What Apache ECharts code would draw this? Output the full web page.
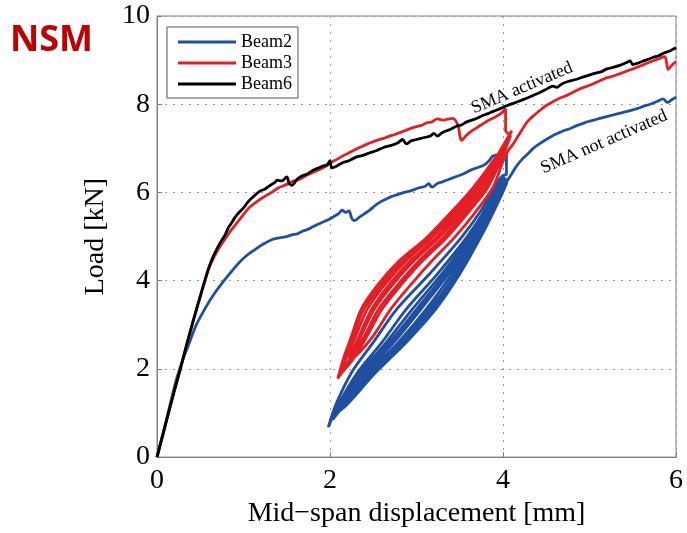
<!DOCTYPE html>
<html>
<head>
<meta charset="utf-8">
<script src="https://cdn.jsdelivr.net/npm/echarts@6/dist/echarts.min.js"></script>
<style>
  html, body { margin: 0; padding: 0; background: #fff; }
  #chart { width: 687px; height: 533px; }
</style>
</head>
<body>
<div id="chart"></div>
<script>
// values: [displacement mm, load kN]
const beam2Pre = [[0,0],[0.1,0.78],[0.2,1.58],[0.23,1.8],[0.3,2.22],[0.36,2.52],[0.45,2.98],[0.55,3.35],[0.65,3.67],[0.75,3.94],[0.85,4.18],[0.94,4.39],[1.03,4.56],[1.13,4.7],[1.23,4.83],[1.34,4.94],[1.44,4.98],[1.5,5.0],[1.56,5.04],[1.62,5.06],[1.68,5.12],[1.74,5.16],[1.8,5.22],[1.86,5.28],[1.92,5.33],[1.98,5.38],[2.04,5.45],[2.1,5.52],[2.14,5.6],[2.18,5.55],[2.22,5.58],[2.25,5.42],[2.28,5.36],[2.34,5.44],[2.4,5.52],[2.46,5.6],[2.52,5.7],[2.58,5.78],[2.64,5.84],[2.7,5.9],[2.78,5.95],[2.86,6.0],[2.94,6.04],[3.02,6.1],[3.1,6.14],[3.14,6.2],[3.18,6.12],[3.24,6.2],[3.3,6.24],[3.38,6.3],[3.46,6.36],[3.54,6.42],[3.62,6.5],[3.7,6.56],[3.78,6.62],[3.84,6.72],[3.88,6.82],[3.96,6.86],[4.04,6.9],[4.04,6.4]];
const beam2Cycles = [
  [4.02,6.4],[3.92,6.2],[3.75,5.6],[3.52,4.98],[3.15,4.15],[2.77,3.35],[2.5,2.6],[2.25,1.92],[2.07,1.2],[1.98,0.68],
  [2.1,1.2],[2.32,1.92],[2.6,2.6],[2.88,3.35],[3.24,4.15],[3.58,4.98],[3.79,5.6],[3.95,6.2],[4.02,6.35],
  [3.97,6.2],[3.81,5.6],[3.61,4.98],[3.29,4.15],[2.95,3.35],[2.65,2.6],[2.36,1.92],[2.12,1.2],[2.03,0.85],
  [2.17,1.2],[2.46,1.92],[2.79,2.6],[3.11,3.35],[3.41,4.15],[3.69,4.98],[3.86,5.6],[4.01,6.2],[4.03,6.3],
  [3.99,6.2],[3.83,5.6],[3.64,4.98],[3.34,4.15],[3.02,3.35],[2.71,2.6],[2.4,1.92],[2.17,1.3],[2.08,1.0],
  [2.2,1.2],[2.53,1.92],[2.88,2.6],[3.22,3.35],[3.5,4.15],[3.74,4.98],[3.9,5.6],[4.04,6.2],[4.05,6.3],
  [3.98,6.2],[3.83,5.6],[3.63,4.98],[3.33,4.15],[3.0,3.35],[2.69,2.6],[2.39,1.92],[2.2,1.4],[2.14,1.15],
  [2.26,1.4],[2.49,1.92],[2.82,2.6],[3.15,3.35],[3.45,4.15],[3.71,4.98],[3.88,5.6],[4.02,6.2],[4.04,6.28],
  [4.0,6.2],[3.84,5.6],[3.66,4.98],[3.37,4.15],[3.05,3.35],[2.74,2.6],[2.42,1.92],[2.2,1.35],
  [2.5,1.92],[2.84,2.6],[3.18,3.35],[3.47,4.15],[3.72,4.98],[3.88,5.6],[4.03,6.2]];
const beam2Post = [[4.06,6.3],[4.1,6.42],[4.15,6.58],[4.22,6.75],[4.3,6.9],[4.35,7.0],[4.42,7.1],[4.5,7.2],[4.56,7.27],[4.62,7.33],[4.7,7.4],[4.78,7.45],[4.86,7.52],[4.92,7.56],[4.97,7.6],[5.05,7.64],[5.12,7.68],[5.2,7.72],[5.26,7.75],[5.32,7.78],[5.4,7.82],[5.48,7.86],[5.55,7.9],[5.62,7.95],[5.7,8.0],[5.78,8.06],[5.85,8.12],[5.9,8.04],[5.95,8.1],[6.0,8.16]];

const beam3Pre = [[0,0],[0.1,0.75],[0.2,1.5],[0.27,2.0],[0.35,2.6],[0.42,3.1],[0.5,3.63],[0.555,4.0],[0.6,4.28],[0.65,4.5],[0.7,4.68],[0.75,4.84],[0.8,4.98],[0.84,5.1],[0.9,5.25],[0.96,5.4],[1.02,5.55],[1.08,5.68],[1.16,5.8],[1.22,5.88],[1.28,5.95],[1.34,6.02],[1.4,6.1],[1.46,6.15],[1.52,6.2],[1.58,6.26],[1.65,6.3],[1.72,6.38],[1.8,6.45],[1.88,6.52],[1.94,6.58],[2.0,6.66],[2.08,6.75],[2.16,6.84],[2.24,6.92],[2.3,6.98],[2.38,7.05],[2.46,7.12],[2.54,7.18],[2.61,7.22],[2.68,7.27],[2.76,7.32],[2.84,7.38],[2.92,7.44],[3.0,7.49],[3.06,7.52],[3.12,7.58],[3.18,7.6],[3.24,7.67],[3.3,7.64],[3.36,7.66],[3.42,7.68],[3.48,7.52],[3.5,7.3],[3.52,7.18],[3.57,7.28],[3.62,7.37],[3.7,7.47],[3.77,7.56],[3.84,7.64],[3.9,7.7],[3.97,7.78],[4.03,7.9],[4.03,7.4]];
const beam3Cycles = [
  [4.07,7.3],[3.88,6.7],[3.65,6.1],[3.4,5.55],[3.12,4.98],[2.8,4.45],[2.55,3.9],[2.36,3.35],[2.25,2.75],[2.15,2.2],[2.09,1.78],
  [2.22,2.2],[2.36,2.75],[2.51,3.35],[2.72,3.9],[2.97,4.45],[3.26,4.98],[3.53,5.55],[3.75,6.1],[3.93,6.7],[4.1,7.4],
  [3.89,6.7],[3.67,6.1],[3.43,5.55],[3.15,4.98],[2.84,4.45],[2.59,3.9],[2.39,3.35],[2.27,2.75],[2.17,2.2],[2.11,1.84],
  [2.24,2.2],[2.4,2.75],[2.56,3.35],[2.78,3.9],[3.03,4.45],[3.31,4.98],[3.57,5.55],[3.79,6.1],[3.95,6.7],[4.09,7.3],
  [3.9,6.7],[3.7,6.1],[3.46,5.55],[3.18,4.98],[2.88,4.45],[2.63,3.9],[2.43,3.35],[2.3,2.75],[2.18,2.2],[2.13,1.9],
  [2.26,2.2],[2.43,2.75],[2.6,3.35],[2.82,3.9],[3.07,4.45],[3.35,4.98],[3.6,5.55],[3.82,6.1],[3.97,6.7],[4.08,7.25],
  [3.92,6.7],[3.73,6.1],[3.5,5.55],[3.23,4.98],[2.93,4.45],[2.68,3.9],[2.48,3.35],[2.34,2.75],[2.22,2.25],
  [2.3,2.3],[2.5,2.75],[2.7,3.35],[2.93,3.9],[3.18,4.45],[3.44,4.98],[3.68,5.55],[3.88,6.1],[4.0,6.7],[4.06,6.95]];
const beam3Post = [[4.1,7.05],[4.15,7.2],[4.22,7.42],[4.28,7.6],[4.36,7.75],[4.44,7.88],[4.5,7.97],[4.58,8.06],[4.66,8.14],[4.74,8.2],[4.81,8.27],[4.88,8.34],[4.96,8.4],[5.04,8.46],[5.12,8.53],[5.2,8.6],[5.28,8.64],[5.36,8.7],[5.43,8.75],[5.5,8.8],[5.58,8.86],[5.65,8.92],[5.73,8.98],[5.8,9.03],[5.87,9.08],[5.89,8.95],[5.91,8.79],[5.95,8.88],[6.0,8.97]];

const beam6 = [[0,0],[0.1,0.75],[0.2,1.5],[0.27,2.0],[0.35,2.6],[0.42,3.1],[0.5,3.65],[0.555,4.02],[0.6,4.3],[0.65,4.55],[0.7,4.75],[0.75,4.92],[0.79,5.05],[0.83,5.22],[0.86,5.3],[0.9,5.43],[0.95,5.55],[1.0,5.65],[1.05,5.78],[1.1,5.88],[1.14,5.95],[1.19,6.03],[1.25,6.08],[1.3,6.15],[1.36,6.22],[1.39,6.28],[1.44,6.26],[1.5,6.35],[1.53,6.2],[1.56,6.16],[1.62,6.3],[1.68,6.38],[1.74,6.42],[1.8,6.5],[1.86,6.55],[1.92,6.6],[1.97,6.63],[2.0,6.72],[2.02,6.56],[2.08,6.6],[2.15,6.68],[2.22,6.72],[2.3,6.8],[2.38,6.84],[2.46,6.9],[2.54,6.95],[2.62,7.02],[2.7,7.06],[2.78,7.12],[2.84,7.2],[2.88,7.1],[2.94,7.17],[3.0,7.2],[3.08,7.24],[3.16,7.28],[3.2,7.34],[3.24,7.28],[3.3,7.36],[3.38,7.42],[3.46,7.5],[3.52,7.53],[3.58,7.6],[3.64,7.64],[3.7,7.68],[3.76,7.74],[3.82,7.78],[3.9,7.85],[3.97,7.9],[4.05,7.97],[4.12,8.02],[4.2,8.08],[4.28,8.14],[4.35,8.2],[4.42,8.26],[4.5,8.34],[4.58,8.41],[4.62,8.38],[4.68,8.46],[4.76,8.52],[4.84,8.56],[4.9,8.6],[4.98,8.65],[5.06,8.7],[5.14,8.74],[5.2,8.8],[5.28,8.84],[5.35,8.88],[5.42,8.94],[5.47,8.98],[5.5,8.9],[5.56,8.93],[5.62,8.98],[5.68,9.02],[5.73,9.06],[5.8,9.1],[5.86,9.16],[5.92,9.2],[5.97,9.25],[6.0,9.28]];

const serif = '"Liberation Serif", "DejaVu Serif", serif';

const chart = echarts.init(document.getElementById('chart'));

function line(name, color, data) {
  return {
    name: name,
    type: 'line',
    data: data,
    symbol: 'none',
    smooth: 0.3,
    lineStyle: { color: color, width: 2.8 },
    itemStyle: { color: color }
  };
}

chart.setOption({
  animation: false,
  backgroundColor: '#fff',
  grid: { left: 157, right: 11, top: 16, bottom: 71, show: true, borderColor: '#808080', borderWidth: 1 },
  xAxis: {
    type: 'value', min: 0, max: 6, interval: 2,
    name: 'Mid\u2212span displacement [mm]',
    nameLocation: 'middle', nameGap: 36,
    nameTextStyle: { fontFamily: serif, fontSize: 28, color: '#000' },
    axisLine: { lineStyle: { color: '#808080' } },
    axisTick: { inside: true, length: 5, lineStyle: { color: '#808080' } },
    axisLabel: { fontFamily: serif, fontSize: 28, color: '#000', margin: 10 },
    splitLine: { show: true, lineStyle: { color: '#999', type: [2, 6] } }
  },
  yAxis: {
    type: 'value', min: 0, max: 10, interval: 2,
    name: 'Load [kN]',
    nameLocation: 'middle', nameGap: 47,
    nameTextStyle: { fontFamily: serif, fontSize: 28, color: '#000' },
    axisLine: { show: true, lineStyle: { color: '#808080' } },
    axisTick: { show: true, inside: true, length: 5, lineStyle: { color: '#808080' } },
    axisLabel: { fontFamily: serif, fontSize: 28, color: '#000', margin: 7 },
    splitLine: { show: true, lineStyle: { color: '#999', type: [2, 6] } }
  },
  legend: {
    left: 167, top: 27, orient: 'vertical',
    icon: 'rect',
    itemWidth: 58, itemHeight: 3, itemGap: 3,
    padding: [6, 6, 5, 11],
    borderColor: '#555', borderWidth: 1, backgroundColor: '#fff',
    textStyle: { fontFamily: serif, fontSize: 18, color: '#000' },
    data: ['Beam2', 'Beam3', 'Beam6']
  },
  graphic: [
    { type: 'text', left: 10, top: 23, style: { text: 'NSM', font: 'bold 36px "Open Sans", "Noto Sans", sans-serif', fill: '#c00000' } },
    { type: 'text', x: 522, y: 88, rotation: 23 * Math.PI / 180,
      style: { text: 'SMA activated', font: '18px ' + serif, fill: '#000', align: 'center', verticalAlign: 'middle' } },
    { type: 'text', x: 604, y: 142, rotation: 23.5 * Math.PI / 180,
      style: { text: 'SMA not activated', font: '18px ' + serif, fill: '#000', align: 'center', verticalAlign: 'middle' } }
  ],
  series: [
    line('Beam2', '#1f4fa0', beam2Pre.concat(beam2Cycles, beam2Post)),
    line('Beam3', '#e31e24', beam3Pre.concat(beam3Cycles, beam3Post)),
    line('Beam6', '#000000', beam6)
  ]
});
</script>
</body>
</html>
